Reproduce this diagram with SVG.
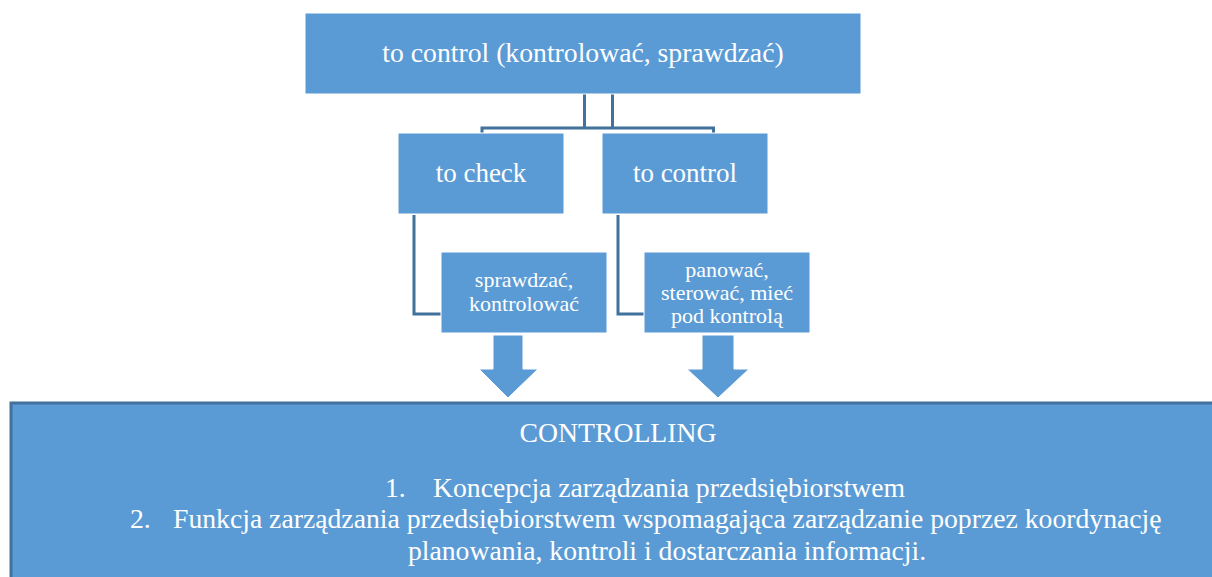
<svg xmlns="http://www.w3.org/2000/svg" width="1212" height="577" viewBox="0 0 1212 577">
<style>
.box{fill:#5B9BD5;stroke:#ffffff;stroke-width:1}
.t{font-family:"Liberation Serif","Times New Roman",serif;fill:#ffffff}
.big{font-size:27px}
.xl{font-size:27.7px}
.sm{font-size:22px}
.conn{fill:none;stroke:#41719C;stroke-width:3}
.arrow{fill:#5B9BD5;stroke:#ffffff;stroke-width:1}
</style>
<rect width="1212" height="577" fill="#ffffff"/>
<g id="connectors">
<path class="conn" d="M584.5 94 V128 M612.5 94 V128 M482 133 V128 H713.5 V133"/>
<path class="conn" d="M414 215 V314 H441"/>
<path class="conn" d="M618 215 V314 H644"/>
</g>
<g id="n-top">
<rect class="box" x="305" y="13" width="556" height="81"/>
<text class="t xl" x="583" y="62" text-anchor="middle">to control (kontrolować, sprawdzać)</text>
</g>
<g id="n-check">
<rect class="box" x="398" y="133" width="166" height="81"/>
<text class="t big" x="481" y="182" text-anchor="middle">to check</text>
</g>
<g id="n-control">
<rect class="box" x="602" y="133" width="166" height="81"/>
<text class="t big" x="685" y="182" text-anchor="middle">to control</text>
</g>
<g id="n-sprawdzac">
<rect class="box" x="441" y="252" width="166" height="81"/>
<text class="t sm" x="524" y="287" text-anchor="middle">sprawdzać,</text>
<text class="t sm" x="524" y="311" text-anchor="middle">kontrolować</text>
</g>
<g id="n-panowac">
<rect class="box" x="644" y="252" width="166" height="81"/>
<text class="t sm" x="727" y="277" text-anchor="middle">panować,</text>
<text class="t sm" x="727" y="300" text-anchor="middle">sterować, mieć</text>
<text class="t sm" x="727" y="323" text-anchor="middle">pod kontrolą</text>
</g>
<g id="arrows">
<polygon class="arrow" points="493,335 523,335 523,369 538,369 508,398 479,369 493,369"/>
<polygon class="arrow" points="702,335 734,335 734,369 749,369 718,398 687,369 702,369"/>
</g>
<g id="n-controlling">
<rect x="11" y="403" width="1212" height="190" fill="#5B9BD5" stroke="#41719C" stroke-width="3"/>
<text class="t xl" x="618" y="442" text-anchor="middle">CONTROLLING</text>
<text class="t xl" x="385" y="497">1.</text>
<text class="t xl" x="433" y="497">Koncepcja zarządzania przedsiębiorstwem</text>
<text class="t xl" x="130" y="528">2.</text>
<text class="t xl" x="173" y="528">Funkcja zarządzania przedsiębiorstwem wspomagająca zarządzanie poprzez koordynację</text>
<text class="t xl" x="667" y="560" text-anchor="middle">planowania, kontroli i dostarczania informacji.</text>
</g>
</svg>
